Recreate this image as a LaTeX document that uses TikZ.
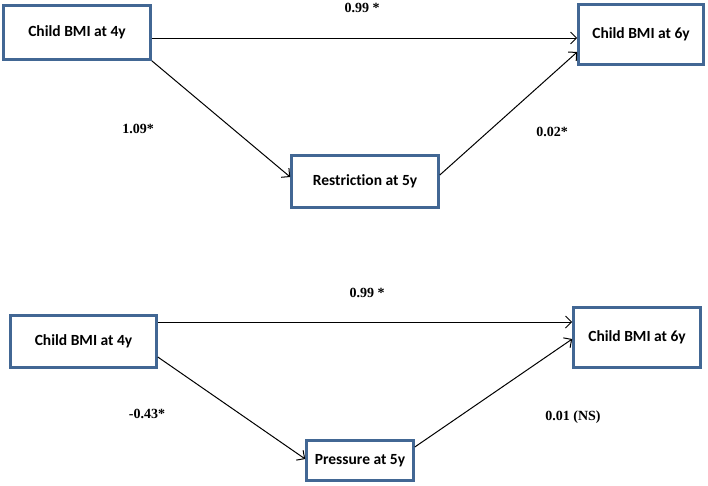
\documentclass[tikz,border=0pt]{standalone}
\usepackage{fontspec}
\setmainfont{Liberation Serif}
\newfontfamily\boxfont[Ligatures=NoCommon]{Carlito}
\usetikzlibrary{arrows.meta}
\definecolor{boxblue}{RGB}{66,103,148}
\tikzset{
  varbox/.style={draw=boxblue, line width=2.6pt, fill=white, inner sep=0pt,
    font=\boxfont\bfseries\fontsize{15.5}{18}\selectfont, text=black},
  coef/.style={font=\bfseries\fontsize{14}{16}\selectfont, inner sep=0pt},
  path/.style={line width=1pt, -{Straight Barb[length=6pt,width=12pt,line width=1pt]}}
}
\begin{document}
\begin{tikzpicture}[x=1pt,y=-1pt]
\useasboundingbox (0,0) rectangle (708,485);
% top diagram
\node[varbox, minimum width=147pt, minimum height=54pt] (A1) at (77,32.5) {Child BMI at 4y};
\node[varbox, minimum width=125pt, minimum height=60pt] (C1) at (641,34.5) {Child BMI at 6y};
\node[varbox, minimum width=147pt, minimum height=52pt] (B1) at (365,181.5) {Restriction at 5y};
\draw[path] ([yshift=-5.5pt]A1.east) -- ([yshift=-3.5pt]C1.west);
\draw[path] (A1.south east) -- ([yshift=4.5pt]B1.west);
\draw[path] ([yshift=6.5pt]B1.east) -- ([yshift=-17.5pt]C1.west);
\node[coef] (l1) at (362,8) {0.99 *};
\node[coef] (l2) at (138,129) {1.09*};
\node[coef] (l3) at (552,132) {0.02*};
% bottom diagram
\node[varbox, minimum width=146pt, minimum height=52pt] (A2) at (83.5,341.5) {Child BMI at 4y};
\node[varbox, minimum width=127pt, minimum height=60pt] (C2) at (637,337.5) {Child BMI at 6y};
\node[varbox, minimum width=107pt, minimum height=40pt] (B2) at (360,460.5) {Pressure at 5y};
\draw[path] ([yshift=19.5pt]A2.east) -- ([yshift=15.5pt]C2.west);
\draw[path] ([yshift=-15.5pt]A2.east) -- ([yshift=1.5pt]B2.west);
\draw[path] ([yshift=13.5pt]B2.east) -- ([yshift=-1.5pt]C2.west);
\node[coef] (l4) at (367,293) {0.99 *};
\node[coef] (l5) at (147,414) {-0.43*};
\node[coef] (l6) at (573,417) {0.01 (NS)};
\end{tikzpicture}
\end{document}
